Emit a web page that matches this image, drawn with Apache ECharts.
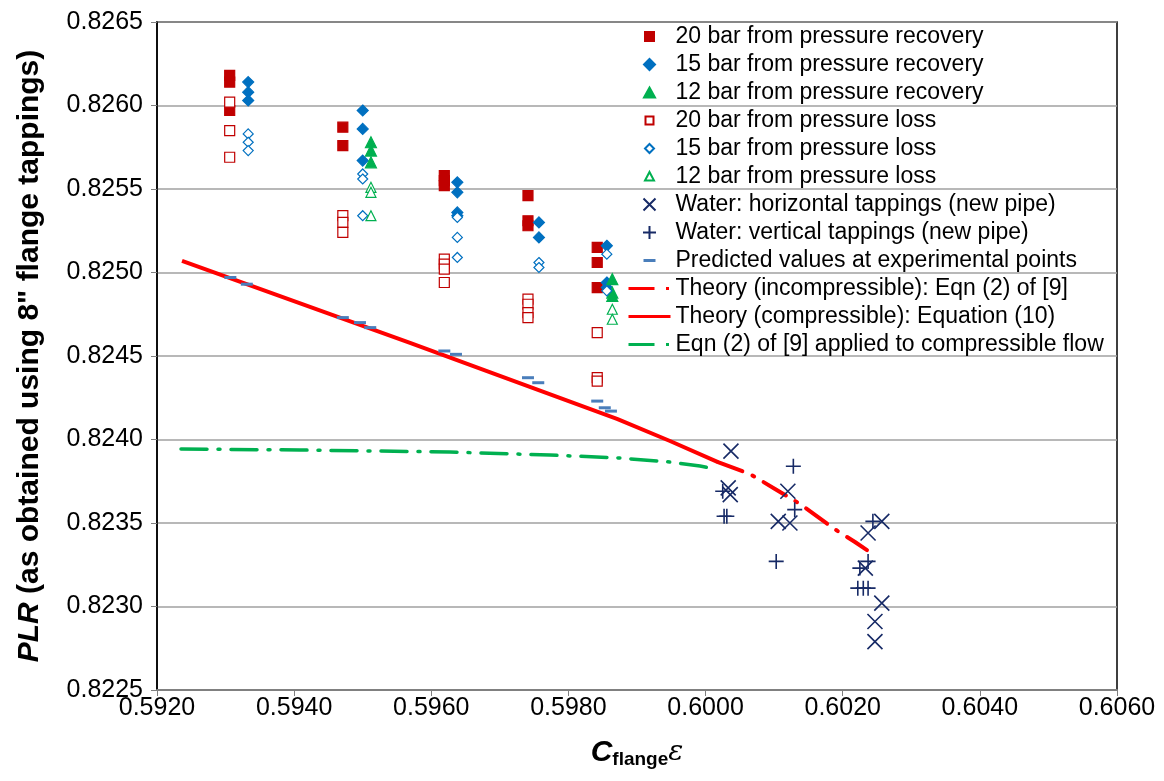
<!DOCTYPE html>
<html><head><meta charset="utf-8">
<script src="https://cdn.jsdelivr.net/npm/echarts@6/dist/echarts.min.js"></script>
<style>html,body{margin:0;padding:0;background:#fff}#c{width:1164px;height:781px}</style>
</head><body><div id="c"></div>
<script>
const rec20 = [[0.59306,0.82618],[0.59306,0.82614],[0.59306,0.82597],[0.59471,0.82587],[0.59471,0.82576],[0.59619,0.82558],[0.59619,0.82555],[0.59619,0.82552],[0.59741,0.82546],[0.59741,0.82531],[0.59741,0.82528],[0.59842,0.82515],[0.59842,0.82506],[0.59842,0.82491]];
const rec15 = [[0.59333,0.82614],[0.59333,0.82608],[0.59333,0.82603],[0.59500,0.82597],[0.59500,0.82586],[0.59500,0.82567],[0.59638,0.82554],[0.59638,0.82548],[0.59638,0.82536],[0.59638,0.82534],[0.59757,0.82530],[0.59757,0.82521],[0.59856,0.82516],[0.59856,0.82494],[0.59856,0.82491]];
const rec12 = [[0.59512,0.82578],[0.59512,0.82573],[0.59512,0.82566],[0.59864,0.82496],[0.59864,0.82488],[0.59864,0.82486]];
const loss20 = [[0.59306,0.82602],[0.59306,0.82585],[0.59306,0.82569],[0.59471,0.82534],[0.59471,0.82530],[0.59471,0.82524],[0.59619,0.82508],[0.59619,0.82505],[0.59619,0.82502],[0.59619,0.82494],[0.59741,0.82484],[0.59741,0.82481],[0.59741,0.82476],[0.59741,0.82473],[0.59842,0.82464],[0.59842,0.82437],[0.59842,0.82435]];
const loss15 = [[0.59333,0.82583],[0.59333,0.82578],[0.59333,0.82573],[0.59500,0.82559],[0.59500,0.82556],[0.59500,0.82534],[0.59638,0.82533],[0.59638,0.82521],[0.59638,0.82509],[0.59757,0.82506],[0.59757,0.82503],[0.59856,0.82511],[0.59856,0.82489]];
const loss12 = [[0.59512,0.82551],[0.59512,0.82548],[0.59512,0.82534],[0.59864,0.82478],[0.59864,0.82472]];
const waterH = [[0.60037,0.82393],[0.60033,0.82371],[0.60036,0.82367],[0.60120,0.82369],[0.60106,0.82351],[0.60123,0.82350],[0.60237,0.82344],[0.60257,0.82351],[0.60233,0.82323],[0.60257,0.82302],[0.60247,0.82291],[0.60247,0.82279]];
const waterV = [[0.60128,0.82384],[0.60025,0.82369],[0.60027,0.82354],[0.60031,0.82354],[0.60130,0.82358],[0.60103,0.82327],[0.60225,0.82323],[0.60237,0.82327],[0.60222,0.82311],[0.60230,0.82311],[0.60237,0.82311],[0.60244,0.82351]];
const predicted = [[0.59307,0.82497],[0.59331,0.82493],[0.59471,0.82473],[0.59496,0.82470],[0.59511,0.82467],[0.59619,0.82453],[0.59636,0.82451],[0.59741,0.82437],[0.59756,0.82434],[0.59842,0.82423],[0.59853,0.82419],[0.59862,0.82417]];
const theoryComp = [[0.592365,0.825069],[0.59569,0.824578],[0.598708,0.824123],[0.599481,0.823991],[0.600181,0.823865]];
const theoryIncomp = [[0.600181,0.823865],[0.600648,0.823793],[0.601013,0.823704],[0.601377,0.823614],[0.601858,0.823470],[0.602179,0.823386],[0.602354,0.823338]];
const eqnComp = [[0.59235,0.823943],[0.594085,0.823937],[0.596273,0.823925],[0.597731,0.823907],[0.598752,0.823889],[0.599481,0.823865],[0.599919,0.823841],[0.600137,0.823823]];
const names = ['20 bar from pressure recovery','15 bar from pressure recovery','12 bar from pressure recovery','20 bar from pressure loss','15 bar from pressure loss','12 bar from pressure loss','Water: horizontal tappings (new pipe)','Water: vertical tappings (new pipe)','Predicted values at experimental points','Theory (incompressible): Eqn (2) of [9]','Theory (compressible): Equation (10)','Eqn (2) of [9] applied to compressible flow'];

const RED='#c00000', BLUE='#0070c0', GREEN='#00b050', NAVY='#172a66';
const FONT='"Liberation Sans", Arial, sans-serif';
// legend icon shapes drawn inside a 42x14 box (anchors keep the box size)
const A='path://M0,0M42,14';
const legendIcons = [
  A+'M16.5,2.5h9v9h-9z',
  A+'M21,1.5L26.5,7L21,12.5L15.5,7z',
  A+'M21,2L26.5,12H15.5z',
  A+'M17,3h8v8h-8z',
  A+'M21,2.5L25.5,7L21,11.5L16.5,7z',
  A+'M21,2.5L25.5,11H16.5z',
  A+'M15,1L27,13M27,1L15,13',
  A+'M21,0.5V13.5M14.5,7H27.5',
  A+'M15,5.5h12v3h-12z',
  A+'M0,5.5h26v3h-26zM37.5,5.5h3v3h-3z',
  A+'M0,5.5h42v3h-42z',
  A+'M0,5.5h26v3h-26zM37.5,5.5h3v3h-3z'
];
const chart = echarts.init(document.getElementById('c'), null, {renderer:'canvas'});
function sc(name, data, symbol, size, fill, stroke){
  return {name, type:'scatter', data, symbol, symbolSize:size, z:4,
    itemStyle:{color:fill, borderColor:stroke, borderWidth:1.2, opacity:1}};
}
const option = {
  animation:false,
  backgroundColor:'#fff',
  grid:{left:157, right:47, top:22, bottom:91, show:true, borderColor:'#000', borderWidth:1.5, backgroundColor:'transparent'},
  xAxis:{type:'value', min:0.592, max:0.606, interval:0.002,
    axisLine:{show:true, onZero:false, lineStyle:{color:'#808080', width:2}},
    axisTick:{show:true, length:6, lineStyle:{color:'#808080'}},
    splitLine:{show:false},
    axisLabel:{formatter:v=>v.toFixed(4), fontFamily:FONT, fontSize:25, color:'#000', margin:6},
    name:'{c|C}{s|flange}{e|ε}', nameLocation:'middle', nameGap:46,
    nameTextStyle:{rich:{
      c:{fontFamily:FONT, fontSize:30, fontWeight:'bold', fontStyle:'italic', color:'#000'},
      s:{fontFamily:FONT, fontSize:19, fontWeight:'bold', color:'#000', padding:[14,0,0,0]},
      e:{fontFamily:'"DejaVu Serif", serif', fontSize:28, fontStyle:'italic', color:'#000'}
    }}
  },
  yAxis:{type:'value', min:0.8225, max:0.8265, interval:0.0005,
    axisLine:{show:true, lineStyle:{color:'#000', width:1.5}},
    axisTick:{show:true, length:6, lineStyle:{color:'#808080'}},
    splitLine:{show:true, lineStyle:{color:'#a0a0a0', width:1.5}},
    axisLabel:{formatter:v=>v.toFixed(4), fontFamily:FONT, fontSize:25, color:'#000', margin:14},
    name:'{a|PLR}{b| (as obtained using 8" flange tappings)}', nameLocation:'middle', nameRotate:90, nameGap:112,
    nameTextStyle:{rich:{
      a:{fontFamily:FONT, fontSize:30, fontWeight:'bold', fontStyle:'italic', color:'#000'},
      b:{fontFamily:FONT, fontSize:30, fontWeight:'bold', color:'#000'}
    }}
  },
  legend:{orient:'vertical', left:621, top:20, itemWidth:42, itemHeight:14, itemGap:5, padding:5,
    backgroundColor:'transparent',
    data:names.map((n,i)=>({name:n, icon:legendIcons[i]})),
    textStyle:{fontFamily:FONT, fontSize:23, color:'#000', lineHeight:23}},
  series:[
    sc(names[0], rec20, 'rect', 10, RED, RED),
    sc(names[1], rec15, 'diamond', 11, BLUE, BLUE),
    sc(names[2], rec12, 'triangle', 11, GREEN, GREEN),
    sc(names[3], loss20, 'rect', 10, '#fff', RED),
    sc(names[4], loss15, 'diamond', 10, '#fff', BLUE),
    sc(names[5], loss12, 'triangle', 10, '#fff', GREEN),
    {name:names[6], type:'scatter', data:waterH, symbol:'path://M0,0L10,10M10,0L0,10', symbolSize:15, z:5,
      itemStyle:{color:'none', borderColor:NAVY, borderWidth:1.6, opacity:1}},
    {name:names[7], type:'scatter', data:waterV, symbol:'path://M5,0L5,10M0,5L10,5', symbolSize:15, z:5,
      itemStyle:{color:'none', borderColor:NAVY, borderWidth:1.6, opacity:1}},
    {name:names[8], type:'scatter', data:predicted, symbol:'rect', symbolSize:[12,3], z:5,
      itemStyle:{color:'#4a7ebb', opacity:1}},
    {name:names[9], type:'line', data:theoryIncomp, symbol:'none', showSymbol:false, z:3,
      lineStyle:{color:'#ff0000', width:4, type:[26,11,2,11], cap:'round'}, itemStyle:{color:'#ff0000'}},
    {name:names[10], type:'line', data:theoryComp, symbol:'none', showSymbol:false, z:3,
      lineStyle:{color:'#ff0000', width:4}, itemStyle:{color:'#ff0000'}},
    {name:names[11], type:'line', data:eqnComp, symbol:'none', showSymbol:false, z:3,
      lineStyle:{color:'#00b050', width:3.5, type:[26,11,2,11], cap:'round'}, itemStyle:{color:'#00b050'}}
  ]
};
chart.setOption(option);
</script></body></html>
